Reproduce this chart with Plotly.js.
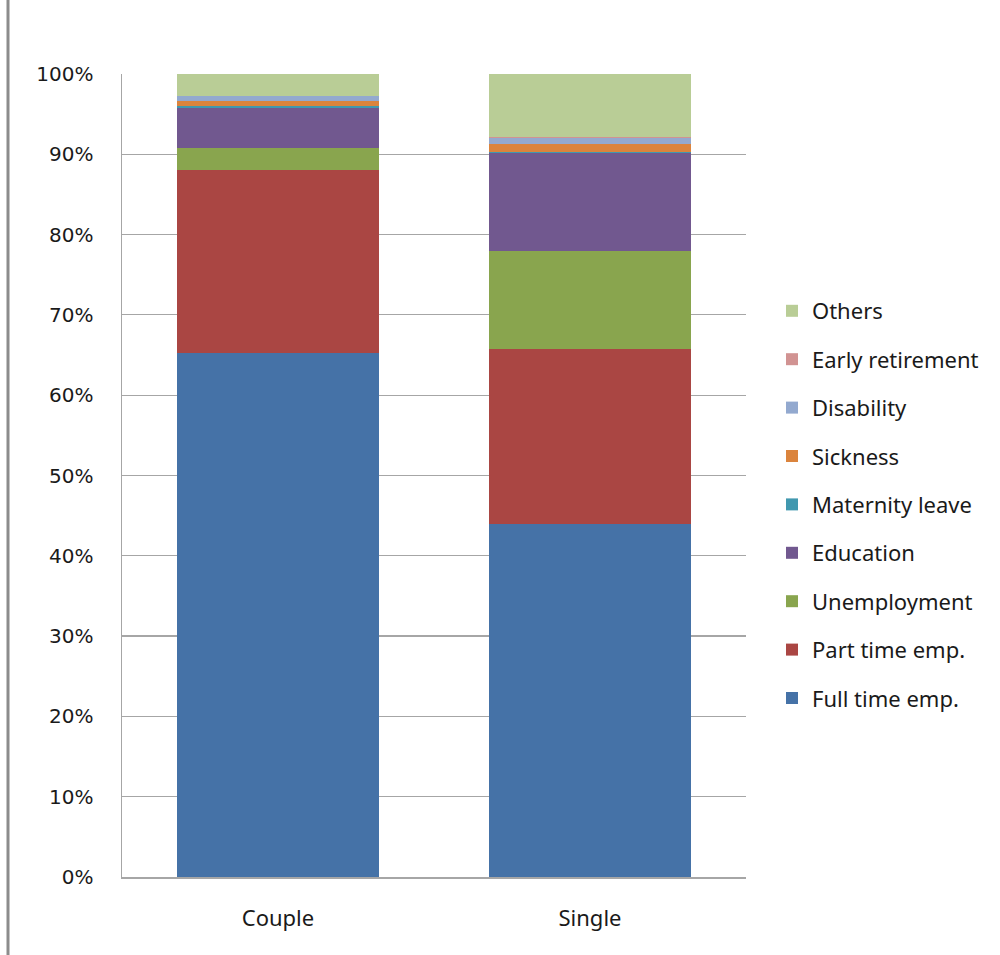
<!DOCTYPE html>
<html>
<head>
<meta charset="utf-8">
<script src="https://cdn.plot.ly/plotly-3.0.1.min.js"></script>
<style>
html,body{margin:0;padding:0;background:#fff;}
#chart{width:1000px;height:955px;}
</style>
</head>
<body>
<div id="chart"></div>
<script>
var categories = ["Couple", "Single"];
var seriesNames = ["Full time emp.", "Part time emp.", "Unemployment", "Education", "Maternity leave", "Sickness", "Disability", "Early retirement", "Others"];
var fullTime = [65.3, 44.0];
var partTime = [22.7, 21.8];
var unemployment = [2.8, 12.2];
var education = [5.0, 12.2];
var maternity = [0.25, 0.05];
var sickness = [0.6, 1.0];
var disability = [0.6, 0.8];
var earlyRetirement = [0.05, 0.05];
var others = [2.7, 7.9];
var tickVals = [0, 10, 20, 30, 40, 50, 60, 70, 80, 90, 100];
var tickText = ["0%", "10%", "20%", "30%", "40%", "50%", "60%", "70%", "80%", "90%", "100%"];

var seriesValues = [fullTime, partTime, unemployment, education, maternity, sickness, disability, earlyRetirement, others];
var colors = ["#4572A7", "#AA4643", "#89A54E", "#71588F", "#4198AF", "#DB843D", "#93A9CF", "#D19392", "#B9CD96"];

var traces = seriesNames.map(function (name, i) {
  return {
    type: "bar",
    name: name,
    x: categories,
    y: seriesValues[i],
    marker: {color: colors[i], line: {width: 0}},
    legendgroup: "g" + i,
    legendrank: 1000 - i,
    hoverinfo: "x+y+name"
  };
});

var plotL = 122, plotR = 746, plotT = 74, plotB = 877;
var pw = plotR - plotL, ph = plotB - plotT;
var txtFont = "'Noto Sans', Lato, sans-serif";

var layout = {
  width: 1000,
  height: 955,
  margin: {l: plotL, r: 1000 - plotR, t: plotT, b: 955 - plotB, pad: 0},
  paper_bgcolor: "#ffffff",
  plot_bgcolor: "#ffffff",
  barmode: "stack",
  bargap: 0.355,
  showlegend: true,
  legend: {
    traceorder: "grouped",
    tracegroupgap: 16.8,
    x: (772 - plotL) / pw,
    xanchor: "left",
    y: 1 - (504.5 - plotT) / ph,
    yanchor: "middle",
    font: {family: txtFont, size: 22, color: "#1a1a1a"},
    bgcolor: "rgba(0,0,0,0)",
    borderwidth: 0
  },
  xaxis: {
    type: "category",
    showgrid: false,
    showline: true,
    linecolor: "#a6a6a6",
    linewidth: 1.5,
    ticks: "",
    tickfont: {family: txtFont, size: 22, color: "#1a1a1a"},
    ticklabelstandoff: 21,
    fixedrange: true
  },
  yaxis: {
    range: [0, 100],
    tickvals: tickVals,
    ticktext: tickText,
    showgrid: true,
    gridcolor: "#a6a6a6",
    gridwidth: 1.2,
    showline: true,
    linecolor: "#a6a6a6",
    linewidth: 1.5,
    zeroline: false,
    ticks: "",
    tickfont: {family: "'DejaVu Sans', Verdana, sans-serif", size: 20, color: "#1a1a1a"},
    ticklabelstandoff: 23,
    fixedrange: true
  },
  shapes: [{
    type: "line",
    xref: "paper", yref: "paper",
    x0: (8 - plotL) / pw, x1: (8 - plotL) / pw,
    y0: -(955 - plotB) / ph, y1: 1 + plotT / ph,
    line: {color: "#8c8c8c", width: 3}
  }]
};

Plotly.newPlot("chart", traces, layout, {displayModeBar: false, staticPlot: true});
</script>
</body>
</html>
